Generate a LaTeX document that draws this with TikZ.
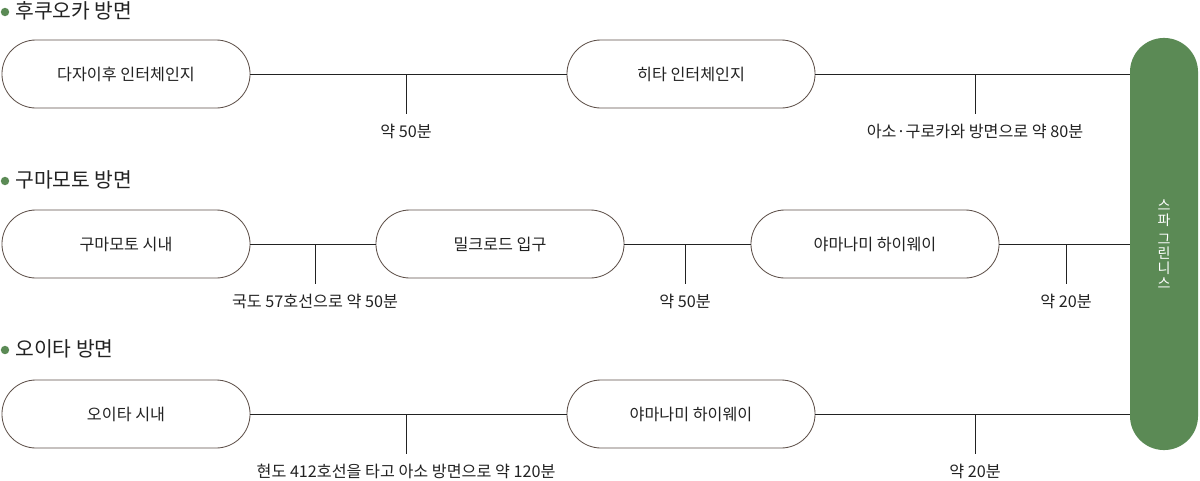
\documentclass[tikz,border=0pt]{standalone}
\usepackage{fontspec}
\setmainfont{Noto Sans CJK KR}
\usepackage{xcolor}
\usetikzlibrary{positioning}
\definecolor{spagreen}{HTML}{5B8A55}
\definecolor{capline}{HTML}{5E5049}
\definecolor{ink}{HTML}{222222}

\begin{document}
\begin{tikzpicture}[
  x=0.025cm, y=-0.025cm,
  stop/.style={draw=capline, line width=0.6pt, rounded corners=0.85cm, minimum width=6.2cm, minimum height=1.7cm, align=center, font=\fontsize{11.5}{13}\selectfont, text=ink},
  goal/.style={fill=spagreen, rounded corners=0.85cm, minimum width=1.7cm, minimum height=10.3cm, align=center, font=\fontsize{10}{10.5}\selectfont, text=white},
  route/.style={draw=ink, line width=0.6pt},
  timelabel/.style={font=\fontsize{11.5}{13}\selectfont, text=ink, inner sep=1pt},
  heading/.style={font=\fontsize{14.5}{16}\selectfont, text=ink, anchor=west, inner sep=0pt},
  dot/.style={circle, fill=spagreen, inner sep=0pt, minimum size=6pt},
]
\useasboundingbox (0,0) rectangle (1200,480);

% Destination bar
\node[goal] (spa) at (1164,244) {스\\파\\[3pt]그\\린\\니\\스};

% Headings
\node[dot] (b1) at (5,12) {};
\node[heading] (h1) at (15,11) {후쿠오카 방면};
\node[dot] (b2) at (5,181) {};
\node[heading] (h2) at (15,180) {구마모토 방면};
\node[dot] (b3) at (5,350) {};
\node[heading] (h3) at (15,349) {오이타 방면};

% Fukuoka route
\node[stop] (f1) at (126,74) {다자이후 인터체인지};
\node[stop] (f2) at (691,74) {히타 인터체인지};
\draw[route] (f1) -- (f2);
\draw[route] (f2) -- (f2 -| spa.west);
\coordinate (tf1) at (406,114);
\coordinate (tf2) at (975,114);
\draw[route] (tf1 |- f1.east) -- (tf1);
\draw[route] (tf2 |- f2.east) -- (tf2);
\node[timelabel, below=6pt of tf1] (lf1) {약 50분};
\node[timelabel, below=6pt of tf2] (lf2) {아소·구로카와 방면으로 약 80분};

% Kumamoto route
\node[stop] (k1) at (126,244) {구마모토 시내};
\node[stop] (k2) at (500,244) {밀크로드 입구};
\node[stop] (k3) at (875,244) {야마나미 하이웨이};
\draw[route] (k1) -- (k2);
\draw[route] (k2) -- (k3);
\draw[route] (k3) -- (k3 -| spa.west);
\coordinate (tk1) at (315,284);
\coordinate (tk2) at (685,284);
\coordinate (tk3) at (1066,284);
\draw[route] (tk1 |- k1.east) -- (tk1);
\draw[route] (tk2 |- k2.east) -- (tk2);
\draw[route] (tk3 |- k3.east) -- (tk3);
\node[timelabel, below=6pt of tk1] (lk1) {국도 57호선으로 약 50분};
\node[timelabel, below=6pt of tk2] (lk2) {약 50분};
\node[timelabel, below=6pt of tk3] (lk3) {약 20분};

% Oita route
\node[stop] (o1) at (126,414) {오이타 시내};
\node[stop] (o2) at (691,414) {야마나미 하이웨이};
\draw[route] (o1) -- (o2);
\draw[route] (o2) -- (o2 -| spa.west);
\coordinate (to1) at (406,454);
\coordinate (to2) at (975,454);
\draw[route] (to1 |- o1.east) -- (to1);
\draw[route] (to2 |- o2.east) -- (to2);
\node[timelabel, below=6pt of to1] (lo1) {현도 412호선을 타고 아소 방면으로 약 120분};
\node[timelabel, below=6pt of to2] (lo2) {약 20분};

\end{tikzpicture}
\end{document}
